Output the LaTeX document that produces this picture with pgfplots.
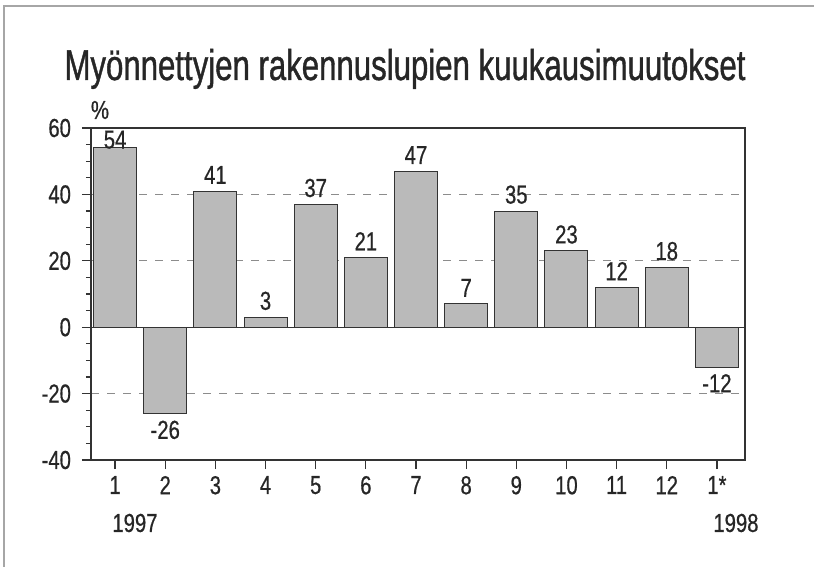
\documentclass[border=0pt]{standalone}
\usepackage{pgfplots}
\usepackage{pgfplotstable}
\pgfplotsset{compat=1.18}
\usepackage{fontspec}
\setmainfont{Liberation Sans}
\newfontfamily\condfont[FakeStretch=0.78, FakeBold=0.6]{Liberation Sans}
\newfontfamily\titlefont[FakeStretch=0.725, FakeBold=0.9]{Liberation Sans}
\newcommand\lblfont{\condfont\fontsize{13}{15}\selectfont}

\pgfplotstableread{
x y dy
0 54 -4
1 -26 0
2 41 0
3 3 0
4 37 0
5 21 0
6 47 0
7 7 0
8 35 0
9 23 0
10 12 0
11 18 0
12 -12 0
}\data

\begin{document}
\begin{tikzpicture}
\path[use as bounding box] (0,0) rectangle (407pt,-283.5pt);
\draw[gray!70, line width=1pt] (1.75pt,-283.5pt) -- (1.75pt,-3pt) -- (407pt,-3pt);
\node[anchor=base, font=\titlefont\fontsize{21.5}{25}\selectfont, text=black!85, inner sep=0pt] at (202.5pt,-40pt) {Myönnettyjen rakennuslupien kuukausimuutokset};
\node[font=\lblfont, text=black!85] at (50pt,-55pt) {\%};
\node[anchor=west, font=\lblfont, text=black!85, inner sep=0pt] at (56pt,-261.5pt) {1997};
\node[anchor=west, font=\lblfont, text=black!85, inner sep=0pt] at (356.5pt,-261.5pt) {1998};
\begin{axis}[
  at={(45.5pt,-230pt)}, anchor=south west,
  scale only axis, width=327pt, height=166pt,
  xmin=-0.48, xmax=12.56, ymin=-40, ymax=60,
  ybar, bar width=0.857,
  xtick={0,...,12}, xticklabels={1,2,3,4,5,6,7,8,9,10,11,12,1*},
  ytick={-40,-20,0,20,40,60}, minor y tick num=3,
  xtick pos=bottom, ytick pos=left,
  tick align=outside, major tick length=4.5pt, minor tick length=2.5pt,
  tick style={black!80, line width=0.6pt},
  axis line style={black!80, line width=0.7pt},
  ticklabel style={font=\lblfont, text=black!85},
  /pgf/number format/assume math mode=true,
  yticklabel style={xshift=-2pt},
  ymajorgrids, major grid style={dash pattern=on 4pt off 4pt, gray!90, line width=0.6pt},
  clip=false,
  nodes near coords,
  visualization depends on={\thisrow{dy} \as \dy},
  every node near coord/.append style={font=\lblfont, text=black!85, yshift=\dy pt},
]
\addplot[fill=black!27, draw=black!80, line width=0.5pt] table[x=x, y=y] {\data};
\draw[black!80, line width=0.7pt] (axis cs:-0.48,0) -- (axis cs:12.56,0);
\end{axis}
\end{tikzpicture}
\end{document}
